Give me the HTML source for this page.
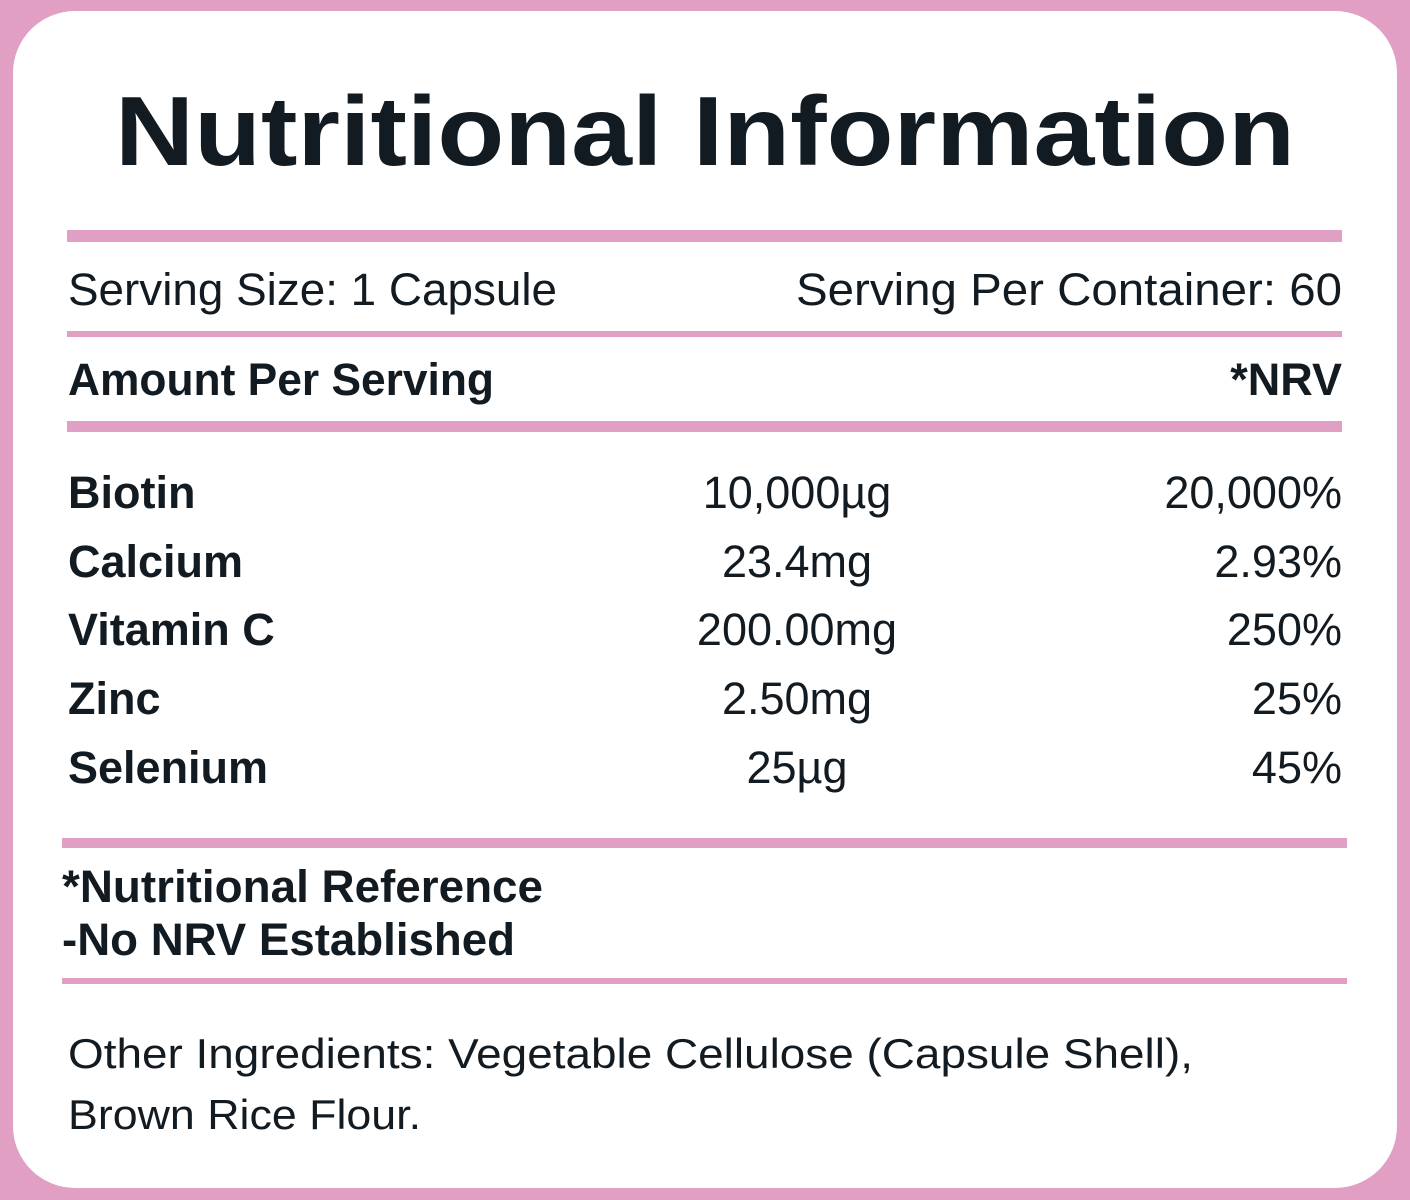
<!DOCTYPE html>
<html><head><meta charset="utf-8"><style>
html,body{margin:0;padding:0;background:#e19fc4;}
svg{display:block}
text{font-family:"Liberation Sans",sans-serif;fill:#131b22}
.b{font-weight:bold}
</style></head><body>
<svg width="1410" height="1200" viewBox="0 0 1410 1200" xmlns="http://www.w3.org/2000/svg">
<rect x="0" y="0" width="1410" height="1200" fill="#e19fc4"/>
<rect x="13" y="11" width="1384" height="1177" rx="62" fill="#fff"/>
<g fill="#e19fc4">
<rect x="67" y="230" width="1275" height="12"/>
<rect x="67" y="331" width="1275" height="6"/>
<rect x="67" y="421" width="1275" height="11"/>
<rect x="62" y="838" width="1285" height="10"/>
<rect x="62" y="978" width="1285" height="6"/>
</g>
<text class="b" x="115" y="165" font-size="98" textLength="1180" lengthAdjust="spacingAndGlyphs">Nutritional Information</text>
<text x="68" y="305" font-size="45" textLength="489" lengthAdjust="spacingAndGlyphs">Serving Size: 1 Capsule</text>
<text x="796" y="305" font-size="45" textLength="546" lengthAdjust="spacingAndGlyphs">Serving Per Container: 60</text>
<text class="b" x="68" y="395" font-size="45" textLength="426" lengthAdjust="spacingAndGlyphs">Amount Per Serving</text>
<text class="b" x="1342" y="395" font-size="45" text-anchor="end">*NRV</text>
<g font-size="45">
<text class="b" x="68" y="508">Biotin</text>
<text class="b" x="68" y="577">Calcium</text>
<text class="b" x="68" y="645">Vitamin C</text>
<text class="b" x="68" y="714">Zinc</text>
<text class="b" x="68" y="783">Selenium</text>
<text x="797" y="508" text-anchor="middle">10,000µg</text>
<text x="797" y="577" text-anchor="middle">23.4mg</text>
<text x="797" y="645" text-anchor="middle">200.00mg</text>
<text x="797" y="714" text-anchor="middle">2.50mg</text>
<text x="797" y="783" text-anchor="middle">25µg</text>
<text x="1342" y="508" text-anchor="end">20,000%</text>
<text x="1342" y="577" text-anchor="end">2.93%</text>
<text x="1342" y="645" text-anchor="end">250%</text>
<text x="1342" y="714" text-anchor="end">25%</text>
<text x="1342" y="783" text-anchor="end">45%</text>
</g>
<text class="b" x="62" y="902" font-size="45" textLength="481" lengthAdjust="spacingAndGlyphs">*Nutritional Reference</text>
<text class="b" x="62" y="955" font-size="45" textLength="453" lengthAdjust="spacingAndGlyphs">-No NRV Established</text>
<text x="68" y="1068" font-size="42" textLength="1125" lengthAdjust="spacingAndGlyphs">Other Ingredients: Vegetable Cellulose (Capsule Shell),</text>
<text x="68" y="1129" font-size="42" textLength="353" lengthAdjust="spacingAndGlyphs">Brown Rice Flour.</text>
</svg>
</body></html>
